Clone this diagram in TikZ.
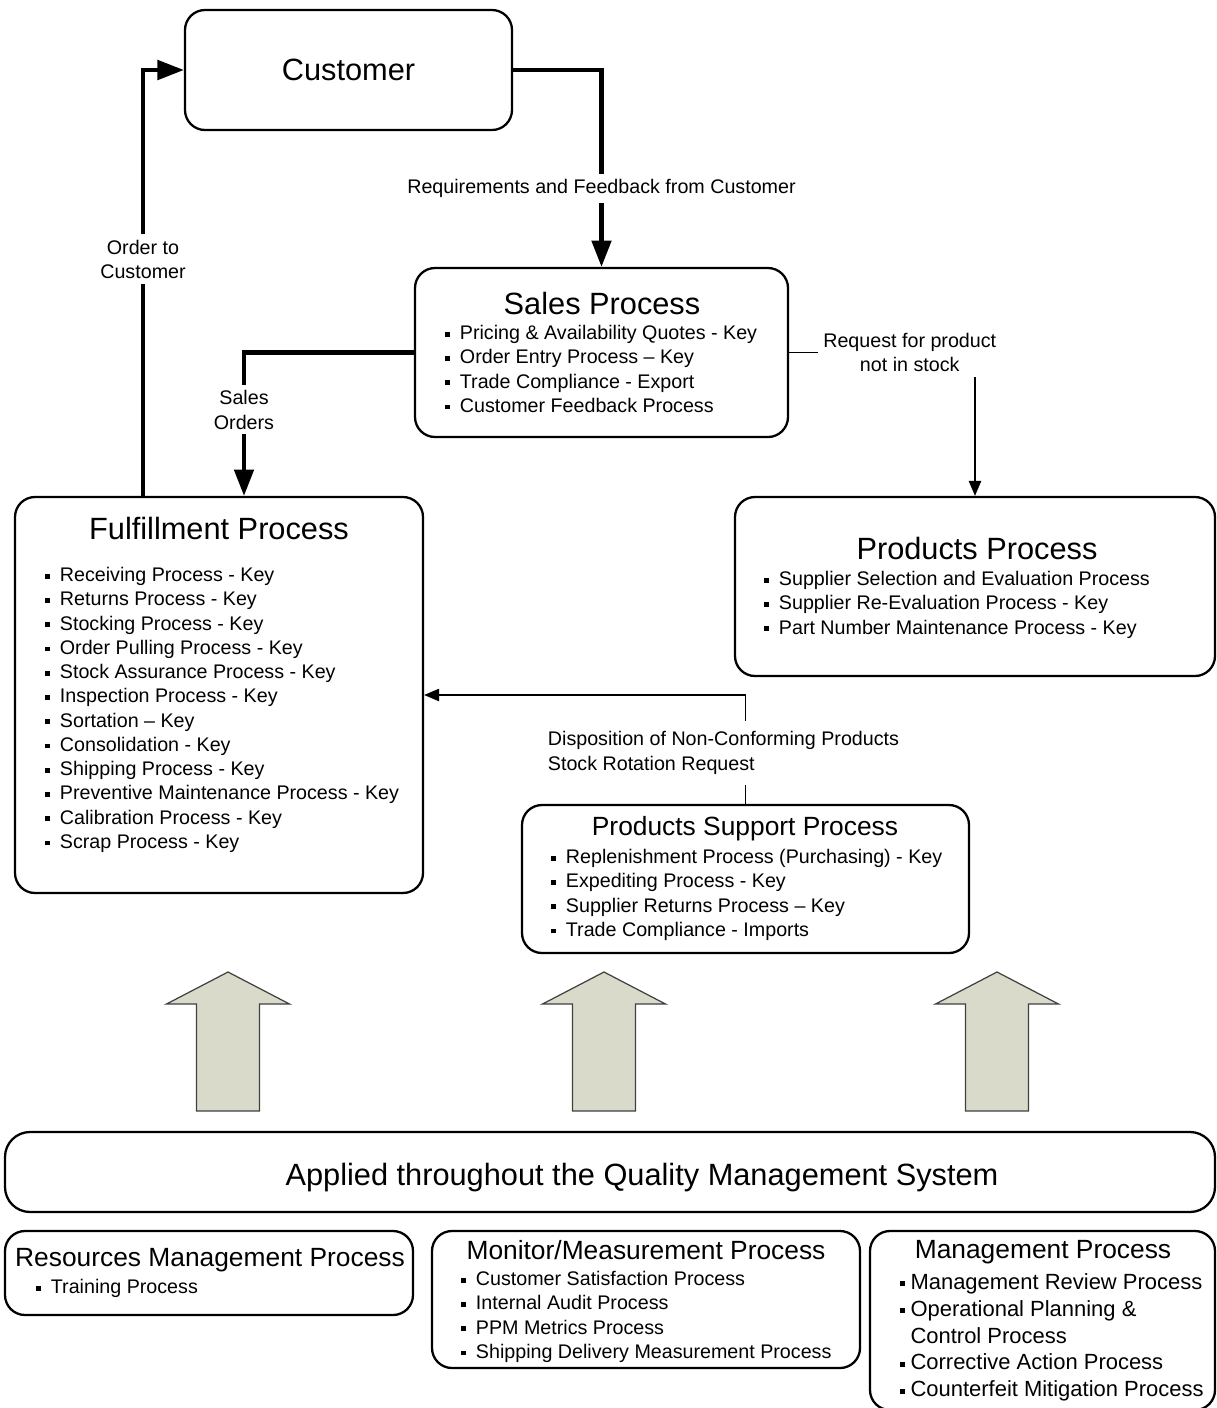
\documentclass[tikz,border=0pt]{standalone}
\usepackage{fontspec}
\setmainfont{Liberation Sans}
\usetikzlibrary{arrows.meta, positioning}
\definecolor{arrfill}{RGB}{218,218,202}
\newcommand{\bul}{\rule[0.28ex]{2.8pt}{2.8pt}\hspace{5.5pt}}
\newcommand{\bulm}{\rule[0.28ex]{2.8pt}{2.8pt}\hspace{3pt}}
\tikzset{
  box/.style  = {draw, rounded corners=0.4cm, line width=1.3pt, inner sep=0pt},
  ttl/.style  = {font=\fontsize{17.5}{21}\selectfont, inner sep=0pt},
  sttl/.style = {font=\fontsize{15}{18}\selectfont, inner sep=0pt},
  lst/.style  = {anchor=north west, align=left, inner sep=0pt,
                 font=\fontsize{11.2}{13.8}\selectfont},
  lbl/.style  = {fill=white, align=center, inner sep=3pt,
                 font=\fontsize{11.2}{13.8}\selectfont},
  thk/.style  = {-{Triangle[length=15pt,width=11pt]}, line width=2.3pt},
  thn/.style  = {-{Triangle[length=8.5pt,width=7pt]}, line width=0.9pt},
  blk/.style  = {fill=arrfill, draw=black!75, line width=0.7pt, line join=miter}
}

\begin{document}
\begin{tikzpicture}
  \useasboundingbox (0,0) rectangle (24.34,-28.16);

  %% Customer and Sales
  \node[box, ttl, minimum width=6.54cm, minimum height=2.4cm] (cust) at (6.97,-1.4) {Customer};
  \node[box, minimum width=7.46cm, minimum height=3.38cm] (sales) at (12.03,-7.05) {};
  \node[ttl] (salesT) at (12.04,-6.06) {Sales Process};
  \node[lst] (salesL) at (8.9,-6.5) {\bul Pricing \& Availability Quotes - Key\\
    \bul Order Entry Process -- Key\\
    \bul Trade Compliance - Export\\
    \bul Customer Feedback Process};

  %% Fulfillment
  \node[box, minimum width=8.16cm, minimum height=7.92cm] (ful) at (4.38,-13.9) {};
  \node[ttl] (fulT) at (4.38,-10.56) {Fulfillment Process};
  \node[lst] (fulL) at (0.9,-11.34) {\bul Receiving Process - Key\\
    \bul Returns Process - Key\\
    \bul Stocking Process - Key\\
    \bul Order Pulling Process - Key\\
    \bul Stock Assurance Process - Key\\
    \bul Inspection Process - Key\\
    \bul Sortation -- Key\\
    \bul Consolidation - Key\\
    \bul Shipping Process - Key\\
    \bul Preventive Maintenance Process - Key\\
    \bul Calibration Process - Key\\
    \bul Scrap Process - Key};

  %% Products
  \node[box, minimum width=9.6cm, minimum height=3.58cm] (prod) at (19.5,-11.73) {};
  \node[ttl] (prodT) at (19.54,-10.96) {Products Process};
  \node[lst] (prodL) at (15.28,-11.42) {\bul Supplier Selection and Evaluation Process\\
    \bul Supplier Re-Evaluation Process - Key\\
    \bul Part Number Maintenance Process - Key};

  %% Products support
  \node[box, minimum width=8.94cm, minimum height=2.96cm] (sup) at (14.91,-17.58) {};
  \node[sttl] (supT) at (14.9,-16.58) {Products Support Process};
  \node[lst] (supL) at (11.02,-16.98) {\bul Replenishment Process (Purchasing) - Key\\
    \bul Expediting Process - Key\\
    \bul Supplier Returns Process -- Key\\
    \bul Trade Compliance - Imports};

  %% Connectors
  \draw[thk] (cust.east) -| (sales.north)
    node[lbl, pos=0.8] (reqL) {Requirements and Feedback from Customer};
  \draw[thk] ([xshift=-1.52cm]ful.north) |- (cust.west)
    node[lbl, pos=0.278] (ordL) {Order to\\Customer};
  \draw[thk] (sales.west) -| ([xshift=0.5cm]ful.north)
    node[lbl, pos=0.7] (soL) {Sales\\Orders};
  \draw[thn] (sales.east) -| (prod.north)
    node[lbl, pos=0.3245] (rqL) {Request for product\\not in stock};
  \draw[thn] (sup.north) |- (ful.east)
    node[lbl, align=left, inner ysep=6pt, pos=0.234, xshift=-0.44cm] (dispL)
    {Disposition of Non-Conforming Products\\Stock Rotation Request};

  %% Block arrows
  \foreach \x in {4.56, 12.08, 19.94} {
    \draw[blk] (\x-0.63,-22.22) -- (\x-0.63,-20.08) -- (\x-1.23,-20.08) -- (\x,-19.44)
      -- (\x+1.23,-20.08) -- (\x+0.63,-20.08) -- (\x+0.63,-22.22) -- cycle;
  }

  %% Quality management system
  \node[box, rounded corners=0.5cm, minimum width=24.2cm, minimum height=1.6cm] (qms) at (12.2,-23.44) {};
  \node[ttl] (qmsT) at (12.84,-23.56) {Applied throughout the Quality Management System};

  \node[box, minimum width=8.16cm, minimum height=1.68cm] (res) at (4.18,-25.46) {};
  \node[sttl] (resT) at (4.2,-25.2) {Resources Management Process};
  \node[lst] (resL) at (0.72,-25.58) {\bul Training Process};

  \node[box, minimum width=8.56cm, minimum height=2.74cm] (mon) at (12.92,-25.99) {};
  \node[sttl] (monT) at (12.92,-25.0) {Monitor/Measurement Process};
  \node[lst] (monL) at (9.22,-25.42) {\bul Customer Satisfaction Process\\
    \bul Internal Audit Process\\
    \bul PPM Metrics Process\\
    \bul Shipping Delivery Measurement Process};

  \node[box, minimum width=6.9cm, minimum height=3.58cm] (mgt) at (20.85,-26.41) {};
  \node[sttl] (mgtT) at (20.86,-25.04) {Management Process};
  \node[lst, font=\fontsize{12.5}{15.3}\selectfont] (mgtL) at (18.0,-25.46) {\bulm Management Review Process\\
    \bulm Operational Planning \&\\
    \hphantom{\bulm}Control Process\\
    \bulm Corrective Action Process\\
    \bulm Counterfeit Mitigation Process};
\end{tikzpicture}
\end{document}
